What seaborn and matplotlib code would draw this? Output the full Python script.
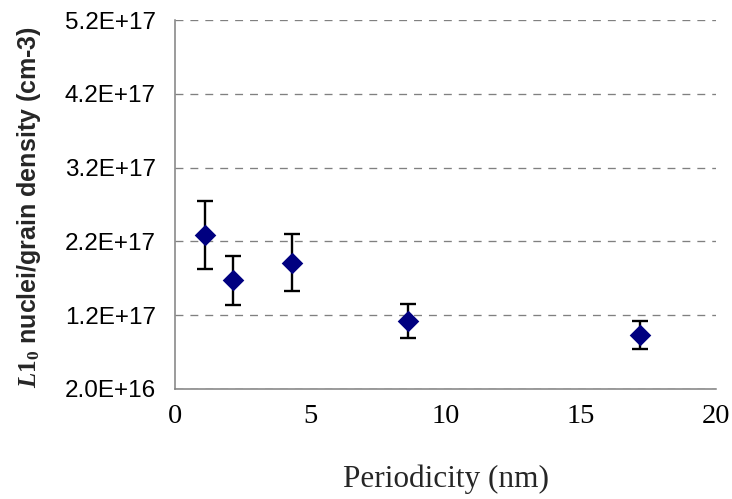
import matplotlib
matplotlib.use("Agg")
import matplotlib.pyplot as plt
import pandas as pd
import seaborn as sns

# Measured L1_0 nuclei/grain density versus multilayer periodicity
periodicity = [1.08, 2.15, 4.3, 8.6, 17.2]
density = [2.29e17, 1.67e17, 1.91e17, 1.12e17, 0.93e17]
density_err = [0.46e17, 0.335e17, 0.385e17, 0.23e17, 0.19e17]

x_ticks = [0, 5, 10, 15, 20]
y_ticks = [2.0e16, 1.2e17, 2.2e17, 3.2e17, 4.2e17, 5.2e17]
y_tick_labels = [f"{v:.1E}" for v in y_ticks]

sns.set_style("white")
plt.rcParams["mathtext.fontset"] = "custom"
plt.rcParams["mathtext.it"] = "Liberation Serif:italic:bold"
plt.rcParams["mathtext.rm"] = "Liberation Serif:bold"
plt.rcParams["mathtext.bf"] = "Liberation Serif:italic:bold"

df = pd.DataFrame({"periodicity": periodicity, "density": density, "err": density_err})

fig = plt.figure(figsize=(7.32, 4.99), dpi=100)
ax = fig.add_axes([0.2395, 0.2210, 0.7385, 0.7383])

ax.errorbar(df["periodicity"], df["density"], yerr=df["err"], fmt="none",
            ecolor="black", elinewidth=1.7, capsize=5.7, capthick=1.7, zorder=2)
sns.scatterplot(data=df, x="periodicity", y="density", marker="D", s=121,
                color="#000080", edgecolor="#000080", linewidth=0, ax=ax, zorder=3)

ax.set_xlim(0, 20)
ax.set_ylim(y_ticks[0], y_ticks[-1])
ax.set_xticks(x_ticks)
ax.set_xticklabels([str(t) for t in x_ticks], fontfamily="Liberation Serif", fontsize=20.5)
ax.set_yticks(y_ticks)
ax.set_yticklabels(y_tick_labels, fontfamily="Liberation Sans", fontsize=17.5)

ax.yaxis.grid(True, color="#808080", linewidth=0.95, linestyle=(0, (6.0, 5.3)))
ax.xaxis.grid(False)
ax.set_axisbelow(True)

for side in ("top", "right"):
    ax.spines[side].set_visible(False)
for side in ("left", "bottom"):
    ax.spines[side].set_color("#808080")
    ax.spines[side].set_linewidth(1.1)

ax.tick_params(axis="both", direction="out", length=5, width=1.1, color="#808080",
               labelcolor="black")
ax.tick_params(axis="y", pad=9)
ax.tick_params(axis="x", pad=6)

ax.set_xlabel("Periodicity (nm)", fontfamily="Liberation Serif", fontsize=22.5)
ax.set_ylabel(r"$\mathit{L1}_{\mathit{0}}$ nuclei/grain density (cm-3)",
              fontfamily="Liberation Sans", fontweight="bold", fontsize=18)
ax.xaxis.set_label_coords(0.5, -0.205)
ax.yaxis.set_label_coords(-0.245, 0.492)

fig.savefig("out.png", dpi=100)
